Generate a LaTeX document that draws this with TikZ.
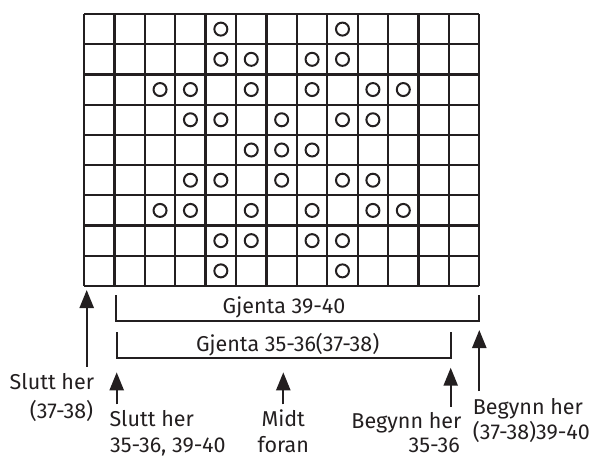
\documentclass[tikz,border=0pt]{standalone}
\usepackage{fontspec}
\setmainfont{Fira Sans}
\usetikzlibrary{arrows.meta}
\definecolor{ink}{HTML}{231F20}
\tikzset{
  gridline/.style={draw=ink, line width=2.3pt},
  stitch/.style={draw=ink, line width=2pt},
  bracketline/.style={draw=ink, line width=2.2pt},
  uparrow/.style={draw=ink, line width=2.3pt, -{Triangle[width=14pt,length=18pt]}},
  lbl/.style={inner sep=0pt, text=ink, font=\fontsize{21.5}{24}\selectfont}
}
\begin{document}
\begin{tikzpicture}[x=1pt,y=-1pt]
\useasboundingbox (0,0) rectangle (603,458);
\def\gx{84}\def\gy{14}\def\cw{30.41}\def\ch{30.22}
% grid
\foreach \i in {0,...,13}{
  \draw[gridline] ({\gx+\i*\cw},{\gy}) -- ({\gx+\i*\cw},{\gy+9*\ch});
}
\foreach \j in {0,...,9}{
  \draw[gridline] ({\gx},{\gy+\j*\ch}) -- ({\gx+13*\cw},{\gy+\j*\ch});
}
% circles: row/col
\foreach \r/\c in {0/4,0/8,
  1/4,1/5,1/7,1/8,
  2/2,2/3,2/5,2/7,2/9,2/10,
  3/3,3/4,3/6,3/8,3/9,
  4/5,4/6,4/7,
  5/3,5/4,5/6,5/8,5/9,
  6/2,6/3,6/5,6/7,6/9,6/10,
  7/4,7/5,7/7,7/8,
  8/4,8/8}{
  \draw[stitch] ({\gx+(\c+0.5)*\cw},{\gy+(\r+0.5)*\ch}) circle (6.5);
}
% brackets
\coordinate (b1l) at (116,295);
\coordinate (b1r) at (479.3,295);
\draw[bracketline] (b1l) -- (116,320.7) -- (479.3,320.7) -- (b1r);
\node[lbl, anchor=base] (g1) at (284,313.3) {Gjenta 39-40};
\coordinate (b2l) at (116.7,332.3);
\coordinate (b2r) at (450.7,332.3);
\draw[bracketline] (b2l) -- (116.7,358.3) -- (450.7,358.3) -- (b2r);
\node[lbl, anchor=base] (g2) at (287.6,351.8) {Gjenta 35-36(37-38)};
% arrows
\coordinate (a1b) at (86.7,366.7); \coordinate (a1t) at (86.7,290);
\coordinate (a2b) at (116.7,404.3); \coordinate (a2t) at (116.7,372.3);
\coordinate (a3b) at (283.3,404.3); \coordinate (a3t) at (283.3,372.3);
\coordinate (a4b) at (450.7,406.7); \coordinate (a4t) at (450.7,367.7);
\coordinate (a5b) at (479.3,391); \coordinate (a5t) at (479.3,330);
\draw[uparrow] (a1b) -- (a1t);
\draw[uparrow] (a2b) -- (a2t);
\draw[uparrow] (a3b) -- (a3t);
\draw[uparrow] (a4b) -- (a4t);
\draw[uparrow] (a5b) -- (a5t);
% labels
\node[lbl, anchor=base east] (s1a) at (94.3,389.5) {Slutt her};
\node[lbl, anchor=base east] (s1b) at (93.3,418) {(37-38)};
\node[lbl, anchor=base west] (s2a) at (109.3,426.5) {Slutt her};
\node[lbl, anchor=base west] (s2b) at (110,452.5) {35-36, 39-40};
\node[lbl, anchor=base] (m1) at (283.3,426.5) {Midt};
\node[lbl, anchor=base] (m2) at (283.3,452.5) {foran};
\node[lbl, anchor=base east] (bg1a) at (461.7,428.5) {Begynn her};
\node[lbl, anchor=base east] (bg1b) at (460,452.5) {35-36};
\node[lbl, anchor=base west] (bg2a) at (472.7,414.3) {Begynn her};
\node[lbl, anchor=base west] (bg2b) at (472.7,439.5) {(37-38)39-40};
\end{tikzpicture}
\end{document}
